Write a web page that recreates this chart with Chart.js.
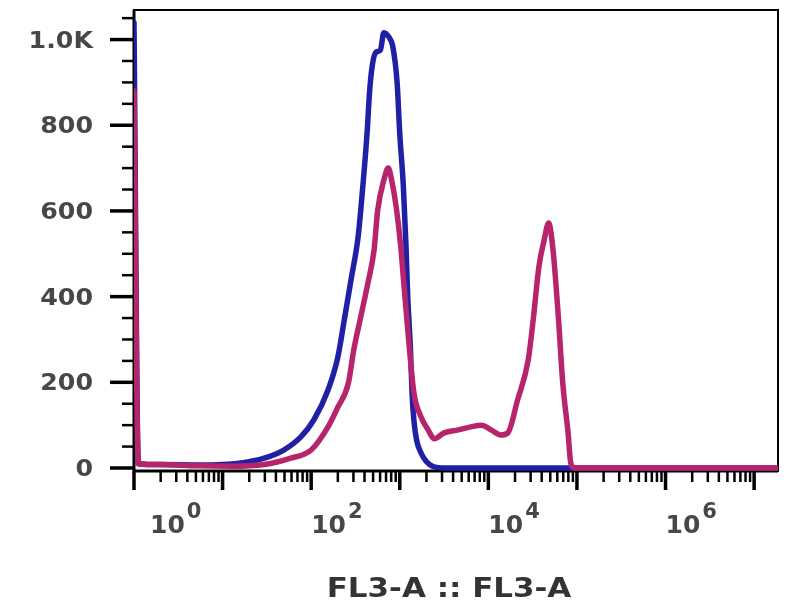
<!DOCTYPE html>
<html>
<head>
<meta charset="utf-8">
<title>FL3-A histogram</title>
<script src="https://cdn.jsdelivr.net/npm/chart.js@4.4.1/dist/chart.umd.min.js"></script>
<style>
  html, body { margin: 0; padding: 0; background: #fff; }
  #wrap { width: 800px; height: 600px; position: relative; }
</style>
</head>
<body>
<div id="wrap"><canvas id="hist"></canvas></div>
<script>
// ======================
// DATA (FL3-A intensity -> count)
// ======================
const blueIntensity = [1, 1.12, 2, 5.6, 16.2, 29.5, 49, 76, 107, 155, 200, 234, 282, 339,
  380, 427, 457, 490, 537, 603, 661, 759, 832, 933, 1000, 1096, 1175, 1230, 1318,
  1380, 1445, 1549, 1738, 1995, 2344, 3311, 20000000];
const blueCounts = [1040, 10, 8, 7, 12, 23, 42, 72, 112, 182, 259, 340, 440, 540,
  650, 780, 880, 940, 970, 975, 1016, 1005, 985, 900, 780, 660, 520, 400, 280,
  170, 110, 65, 35, 15, 4, 0, 0];

const redIntensity = [1, 1.12, 2, 5.2, 12.3, 29.5, 59, 100, 155, 200, 263, 302, 363,
  437, 513, 562, 661, 741, 813, 912, 1023, 1122, 1259, 1445, 1738, 2089, 2455,
  3162, 4571, 6310, 8318, 10715, 13804, 16596, 21380, 28184, 32359, 37154,
  42658, 47863, 53703, 61660, 69183, 79433, 85114, 93325, 20000000];
const redCounts = [880, 10, 8, 5, 4, 8, 23, 42, 96, 142, 198, 275, 353,
  432, 509, 600, 672, 700, 670, 609, 520, 420, 300, 175, 119, 89, 68,
  82, 89, 96, 100, 89, 77, 82, 159, 252, 353, 469,
  532, 572, 509, 353, 198, 82, 12, 0, 0];

// ======================
// AXES
// ======================
const xDecades = [0, 1, 2, 3, 4, 5, 6, 7];
const xLabelDecades = [0, 2, 4, 6];
const xMinorMultipliers = [2, 3, 4, 5, 6, 7, 8, 9];
const yMajorTicks = [0, 200, 400, 600, 800, 1000];
const yTickLabels = ["0", "200", "400", "600", "800", "1.0K"];
const yMinorTicks = [50, 100, 150, 250, 300, 350, 450, 500, 550, 650, 700, 750, 850, 900, 950, 1050];
const xTitle = "FL3-A :: FL3-A";

const BLUE = "#2020a6";
const RED = "#b8246c";
const TEXT = "#474747";
const FONT = "'DejaVu Sans', Verdana, sans-serif";

function toPoints(xs, ys) {
  return xs.map((v, i) => ({ x: v, y: ys[i] }));
}

// stretched text (the original render is a bit wide)
function wideText(ctx, text, x, y, sx, align) {
  ctx.save();
  ctx.translate(x, y);
  ctx.scale(sx, 1);
  ctx.textAlign = align;
  ctx.fillText(text, 0, 0);
  const w = ctx.measureText(text).width * sx;
  ctx.restore();
  return w;
}

// ======================
// FRAME, TICKS, LABELS
// ======================
const flowAxes = {
  id: "flowAxes",
  beforeDatasetsDraw(chart) {
    const { ctx, chartArea: a, scales } = chart;
    const x = scales.x, y = scales.y;
    ctx.save();
    ctx.strokeStyle = "#000";
    ctx.lineCap = "butt";

    // box
    ctx.lineWidth = 2;
    ctx.strokeRect(a.left, a.top, a.right - a.left, a.bottom - a.top);
    ctx.lineWidth = 3;
    ctx.beginPath();
    ctx.moveTo(a.left, a.top);
    ctx.lineTo(a.left, a.bottom);
    ctx.lineTo(a.right, a.bottom);
    ctx.stroke();

    // x ticks
    xDecades.forEach(d => {
      const base = Math.pow(10, d);
      const px = x.getPixelForValue(base);
      ctx.lineWidth = 3.5;
      ctx.beginPath();
      ctx.moveTo(px, a.bottom);
      ctx.lineTo(px, a.bottom + 19);
      ctx.stroke();
      xMinorMultipliers.forEach(m => {
        const v = base * m;
        if (v > x.max) return;
        const mx = x.getPixelForValue(v);
        ctx.lineWidth = 2.5;
        ctx.beginPath();
        ctx.moveTo(mx, a.bottom);
        ctx.lineTo(mx, a.bottom + 11);
        ctx.stroke();
      });
    });

    // y ticks
    yMajorTicks.forEach(v => {
      const py = y.getPixelForValue(v);
      ctx.lineWidth = 3.5;
      ctx.beginPath();
      ctx.moveTo(a.left, py);
      ctx.lineTo(a.left - 24, py);
      ctx.stroke();
    });
    yMinorTicks.forEach(v => {
      const py = y.getPixelForValue(v);
      ctx.lineWidth = 2.5;
      ctx.beginPath();
      ctx.moveTo(a.left, py);
      ctx.lineTo(a.left - 12, py);
      ctx.stroke();
    });
    ctx.restore();
  },
  afterDraw(chart) {
    const { ctx, chartArea: a, scales } = chart;
    const x = scales.x, y = scales.y;
    ctx.save();
    ctx.fillStyle = TEXT;

    // y labels
    ctx.font = "bold 23px " + FONT;
    ctx.textBaseline = "middle";
    yMajorTicks.forEach((v, i) => {
      wideText(ctx, yTickLabels[i], a.left - 41, y.getPixelForValue(v) + 2, 1.1, "right");
    });

    // x labels 10^n
    ctx.textBaseline = "alphabetic";
    xLabelDecades.forEach(d => {
      const px = x.getPixelForValue(Math.pow(10, d));
      const x0 = Math.max(px, a.left + 16);
      ctx.font = "bold 25px " + FONT;
      const w = wideText(ctx, "10", x0, a.bottom + 62, 1.0, "left");
      ctx.font = "bold 21px " + FONT;
      wideText(ctx, String(d), x0 + w + 2, a.bottom + 47, 1.0, "left");
    });

    // axis title
    ctx.font = "bold 26px " + FONT;
    ctx.fillStyle = "#333";
    wideText(ctx, xTitle, (a.left + a.right) / 2 - 7, 597, 1.19, "center");
    ctx.restore();
  }
};

// ======================
// CHART
// ======================
new Chart(document.getElementById("hist"), {
  type: "line",
  data: {
    datasets: [
      {
        label: "stained",
        data: toPoints(redIntensity, redCounts),
        borderColor: RED,
        order: 0
      },
      {
        label: "control",
        data: toPoints(blueIntensity, blueCounts),
        borderColor: BLUE,
        order: 1
      }
    ]
  },
  options: {
    responsive: true,
    maintainAspectRatio: false,
    animation: false,
    layout: { padding: { left: 134, top: 10, right: 22, bottom: 129 } },
    elements: {
      point: { radius: 0, hoverRadius: 0 },
      line: {
        borderWidth: 5.5,
        fill: false,
        cubicInterpolationMode: "monotone",
        borderJoinStyle: "round",
        borderCapStyle: "round"
      }
    },
    scales: {
      x: { type: "logarithmic", min: 1, max: 18600000, display: false },
      y: { type: "linear", min: -7, max: 1069, display: false }
    },
    plugins: {
      legend: { display: false },
      tooltip: { enabled: false }
    }
  },
  plugins: [flowAxes]
});
</script>
</body>
</html>
